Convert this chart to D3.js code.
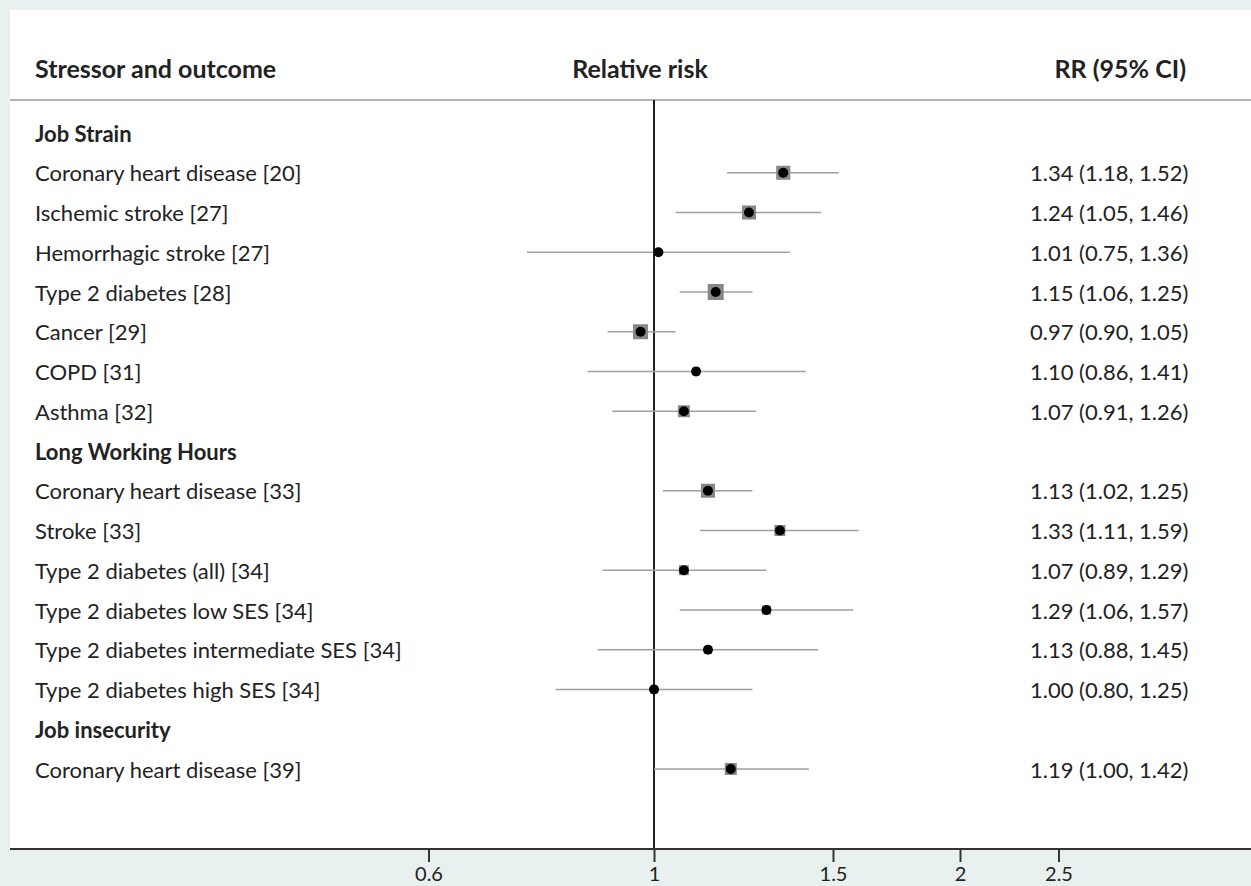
<!DOCTYPE html>
<html>
<head>
<meta charset="utf-8">
<script src="https://cdn.jsdelivr.net/npm/d3@7"></script>
<style>
  html, body { margin: 0; padding: 0; background: #e9f0f0; }
  svg { display: block; }
  text { font-family: Lato, "Open Sans", sans-serif; fill: #222; }
</style>
</head>
<body>
<svg id="chart" width="1251" height="886"></svg>
<script>
// Stress at work and health outcomes: relative risks with 95% confidence intervals
const stressors = ["Job Strain", "Long Working Hours", "Job insecurity"];
const outcomeStressor = [0, 0, 0, 0, 0, 0, 0, 1, 1, 1, 1, 1, 1, 2];
const outcomes = [
  "Coronary heart disease [20]",
  "Ischemic stroke [27]",
  "Hemorrhagic stroke [27]",
  "Type 2 diabetes [28]",
  "Cancer [29]",
  "COPD [31]",
  "Asthma [32]",
  "Coronary heart disease [33]",
  "Stroke [33]",
  "Type 2 diabetes (all) [34]",
  "Type 2 diabetes low SES [34]",
  "Type 2 diabetes intermediate SES [34]",
  "Type 2 diabetes high SES [34]",
  "Coronary heart disease [39]"
];
const rr    = [1.34, 1.24, 1.01, 1.15, 0.97, 1.10, 1.07, 1.13, 1.33, 1.07, 1.29, 1.13, 1.00, 1.19];
const lower = [1.18, 1.05, 0.75, 1.06, 0.90, 0.86, 0.91, 1.02, 1.11, 0.89, 1.06, 0.88, 0.80, 1.00];
const upper = [1.52, 1.46, 1.36, 1.25, 1.05, 1.41, 1.26, 1.25, 1.59, 1.29, 1.57, 1.45, 1.25, 1.42];
// relative study weight (drives the size of the grey square)
const weights = [77, 77, 19, 100, 88, 25, 56, 77, 47, 39, 32, 25, 25, 56];
const tickValues = [0.6, 1, 1.5, 2, 2.5];
const columnHeaders = ["Stressor and outcome", "Relative risk", "RR (95% CI)"];

const W = 1251, H = 886;
const panel = { left: 10, top: 10, right: W, axisY: 849 };
const headerLineY = 100;
const bodyFont = 22, headFont = 25;

const svg = d3.select("#chart");

// white plotting panel
svg.append("rect")
  .attr("x", panel.left).attr("y", panel.top)
  .attr("width", panel.right - panel.left).attr("height", panel.axisY - panel.top)
  .attr("fill", "#ffffff");

// build row list: one heading row per stressor followed by its outcomes
const rows = [];
stressors.forEach((s, si) => {
  rows.push({ type: "heading", label: s });
  outcomes.forEach((o, i) => {
    if (outcomeStressor[i] === si) {
      rows.push({ type: "outcome", label: o, rr: rr[i], lo: lower[i], hi: upper[i], w: weights[i] });
    }
  });
});

const y = d3.scalePoint()
  .domain(d3.range(rows.length))
  .range([133, 769]);

const x = d3.scaleLog()
  .domain([0.6, 2.5])
  .range([428.5, 1058.5]);

const size = d3.scaleSqrt().domain([0, d3.max(weights)]).range([0, 16]);

const fmt = d3.format(".2f");

// column headers
const headerPos = [
  { x: 35, anchor: "start" },
  { x: 640, anchor: "middle" },
  { x: 1186, anchor: "end" }
];
svg.selectAll("text.colhead")
  .data(columnHeaders)
  .join("text")
  .attr("class", "colhead")
  .attr("x", (d, i) => headerPos[i].x)
  .attr("y", 68)
  .attr("text-anchor", (d, i) => headerPos[i].anchor)
  .attr("dominant-baseline", "central")
  .attr("font-size", headFont).attr("font-weight", 700)
  .attr("fill", "#1a1a1a")
  .text(d => d);

// separator below the headers
svg.append("line")
  .attr("x1", panel.left).attr("x2", panel.right)
  .attr("y1", headerLineY).attr("y2", headerLineY)
  .attr("stroke", "#9a9a9a").attr("stroke-width", 1.5);

// null line at RR = 1
svg.append("line")
  .attr("x1", x(1)).attr("x2", x(1))
  .attr("y1", headerLineY).attr("y2", panel.axisY)
  .attr("stroke", "#222").attr("stroke-width", 2);

// row labels
const rowG = svg.append("g");
rowG.selectAll("text.label")
  .data(rows)
  .join("text")
  .attr("class", "label")
  .attr("x", 35)
  .attr("y", (d, i) => y(i))
  .attr("dominant-baseline", "central")
  .attr("font-size", bodyFont)
  .attr("font-weight", d => d.type === "heading" ? 700 : 400)
  .attr("fill", d => d.type === "heading" ? "#1a1a1a" : "#2a2a2a")
  .text(d => d.label);

const est = rows.map((d, i) => ({ ...d, i })).filter(d => d.type === "outcome");

// confidence intervals
rowG.selectAll("line.ci")
  .data(est)
  .join("line")
  .attr("class", "ci")
  .attr("x1", d => x(d.lo)).attr("x2", d => x(d.hi))
  .attr("y1", d => y(d.i)).attr("y2", d => y(d.i))
  .attr("stroke", "#a0a0a0").attr("stroke-width", 1.6);

// weight squares
rowG.selectAll("rect.wt")
  .data(est)
  .join("rect")
  .attr("class", "wt")
  .attr("x", d => x(d.rr) - size(d.w) / 2)
  .attr("y", d => y(d.i) - size(d.w) / 2)
  .attr("width", d => size(d.w))
  .attr("height", d => size(d.w))
  .attr("fill", "#888888");

// point estimates
rowG.selectAll("circle.pt")
  .data(est)
  .join("circle")
  .attr("class", "pt")
  .attr("cx", d => x(d.rr))
  .attr("cy", d => y(d.i))
  .attr("r", 5)
  .attr("fill", "#000");

// RR (95% CI) column
rowG.selectAll("text.val")
  .data(est)
  .join("text")
  .attr("class", "val")
  .attr("x", 1030)
  .attr("y", d => y(d.i))
  .attr("dominant-baseline", "central")
  .attr("font-size", bodyFont)
  .attr("fill", "#2a2a2a")
  .text(d => `${fmt(d.rr)} (${fmt(d.lo)}, ${fmt(d.hi)})`);

// bottom axis
const axis = d3.axisBottom(x)
  .tickValues(tickValues)
  .tickFormat(d => String(d))
  .tickSize(13)
  .tickPadding(5);

const axisG = svg.append("g")
  .attr("transform", `translate(0,${panel.axisY})`)
  .call(axis);
axisG.select(".domain").remove();
axisG.selectAll(".tick line").attr("stroke", "#333").attr("stroke-width", 2);
axisG.selectAll(".tick text")
  .attr("font-family", "Lato, sans-serif")
  .attr("font-size", 20)
  .attr("fill", "#333");

axisG.append("line")
  .attr("x1", panel.left).attr("x2", panel.right)
  .attr("y1", 0).attr("y2", 0)
  .attr("stroke", "#333").attr("stroke-width", 2);
</script>
</body>
</html>
